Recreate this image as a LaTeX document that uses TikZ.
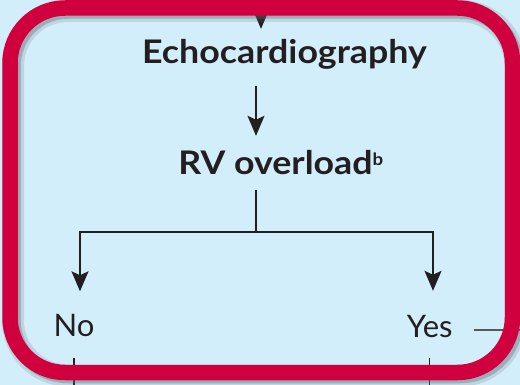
\documentclass[tikz,border=0pt]{standalone}
\usepackage{fontspec}
\setmainfont{Lato}
\newfontfamily\headfont[FakeStretch=1.1]{Lato}
\usetikzlibrary{arrows.meta}
\definecolor{bgblue}{RGB}{211,238,251}
\definecolor{boxred}{RGB}{208,0,62}
\definecolor{ink}{RGB}{35,31,32}
\definecolor{shade}{RGB}{90,100,110}
\begin{document}
\begin{tikzpicture}[x=1pt,y=-1pt,
  txt/.style={inner sep=0pt, text depth=0pt, anchor=base, text=ink},
  bigbold/.style={txt, font=\headfont\fontsize{32.5}{36}\selectfont\bfseries, text height=23pt},
  plain/.style={txt, font=\fontsize{31}{36}\selectfont, text height=23pt},
  conn/.style={draw=ink, line width=2pt},
  arr/.style={conn, -{Stealth[length=20pt,width=17pt,inset=4pt]}},
  thin/.style={draw=ink, line width=1.5pt},
  gline/.style={draw=ink!75, line width=1.2pt},
  redbox/.style={draw=boxred, line width=15.5pt, rounded corners=55pt}
]
\useasboundingbox (0,0) rectangle (520,385);
\fill[bgblue] (0,0) rectangle (520,385);

% nodes
\node[bigbold] (echo) at (284.5,64) {Echocardiography};
\node[bigbold] (rv) at (281,175) {RV overload\textsuperscript{\fontsize{17}{18}\selectfont b}};
\node[plain] (no) at (74,336.5) {No};
\node[plain] (yes) at (429.7,337.5) {Yes};

% coordinates
\coordinate (topin) at (261,0);
\coordinate (c2) at (256,0);
\coordinate (lb) at (80,232);
\coordinate (rb) at (433,232);
\coordinate (yesout) at (520,330);
\coordinate (bot) at (0,385);

% connectors partly under the frame
\draw[arr, shorten >=12pt] (topin) -- (topin |- echo.north);
\draw[gline, shorten <=21.5pt] (yesout -| yes.east) -- (yesout);
\draw[thin, shorten <=21pt] (no.south) -- (no.south |- bot);
\draw[thin, shorten <=20pt] (yes.south) -- (yes.south |- bot);

% frame with shadow
\begin{scope}[xshift=3pt, yshift=-3pt]
  \draw[redbox, draw=shade, opacity=0.18, line width=22pt] (10,8) rectangle (512.5,372.5);
  \draw[redbox, draw=shade, opacity=0.35] (10,8) rectangle (512.5,372.5);
\end{scope}
\draw[redbox] (10,8) rectangle (512.5,372.5);

% inner connectors
\draw[arr, shorten <=22pt, shorten >=16pt] (c2 |- echo.south) -- (c2 |- rv.north);
\draw[conn, shorten <=15pt] (c2 |- rv.south) -- (c2 |- lb);
\draw[arr, shorten >=22pt] (c2 |- lb) -- (lb) -- (lb |- no.north);
\draw[arr, shorten >=23.5pt] (c2 |- lb) -- (rb) -- (rb |- yes.north);
\end{tikzpicture}
\end{document}
